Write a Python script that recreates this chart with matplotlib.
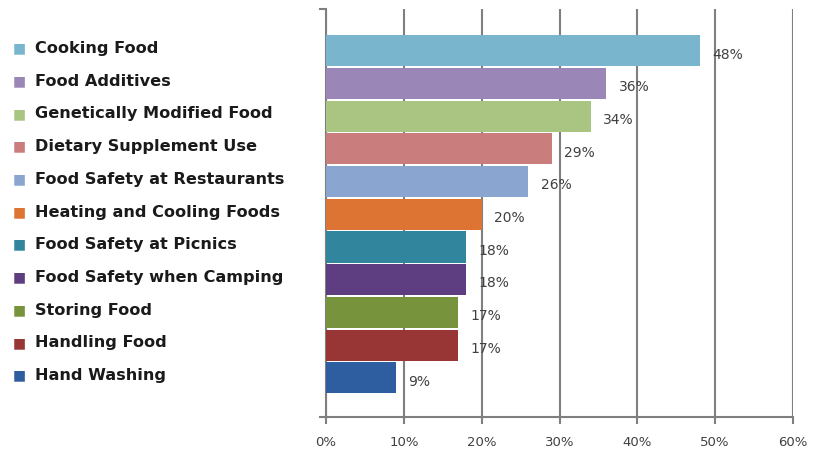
import matplotlib
matplotlib.use('Agg')
import matplotlib.pyplot as plt
import matplotlib.transforms as mtransforms
from matplotlib.ticker import PercentFormatter

topics = ['Cooking Food', 'Food Additives', 'Genetically Modified Food',
          'Dietary Supplement Use', 'Food Safety at Restaurants',
          'Heating and Cooling Foods', 'Food Safety at Picnics',
          'Food Safety when Camping', 'Storing Food', 'Handling Food',
          'Hand Washing']
shares = [48, 36, 34, 29, 26, 20, 18, 18, 17, 17, 9]
colors = ['#79B5CC', '#9A87B7', '#AAC581', '#C97D7C', '#8BA5D1', '#DD7433',
          '#31869E', '#5E3E80', '#77943D', '#973634', '#2F5EA0']
xticks = [0, 10, 20, 30, 40, 50, 60]

fig = plt.figure(figsize=(8.14, 4.56), dpi=100)
ax = fig.add_axes([0.4005, 0.0833, 0.5737, 0.8947])

pos = list(range(len(topics)))
ax.barh(pos, shares, height=0.95, color=colors, zorder=3)

ax.set_xlim(0, 60)
ax.set_ylim(11.2, -1.28)
ax.set_xticks(xticks)
ax.xaxis.set_major_formatter(PercentFormatter(decimals=0))
ax.grid(axis='x', color='#7f7f7f', linewidth=1.5, zorder=0)
ax.set_yticks([11.2, -1.28])
ax.set_yticklabels([])

for s in ['top', 'right']:
    ax.spines[s].set_visible(False)
for s in ['left', 'bottom']:
    ax.spines[s].set_color('#7f7f7f')
    ax.spines[s].set_linewidth(1.5)
ax.tick_params(axis='x', length=5, width=1.5, color='#7f7f7f', pad=8,
               labelsize=9.5, labelcolor='#404040')
ax.tick_params(axis='y', length=5, width=1.5, color='#7f7f7f')

for y, v in zip(pos, shares):
    ax.annotate(f'{v}%', (v, y), xytext=(9, -2), textcoords='offset points',
                va='center', ha='left', fontsize=10, color='#404040', zorder=4)

# legend entries lined up with the bars
trans = mtransforms.blended_transform_factory(fig.transFigure, ax.transData)
for y, name, c in zip(pos, topics, colors):
    ax.text(0.016, y - 0.1, '\u25A0', transform=trans, color=c, fontsize=10,
            va='center', ha='left', clip_on=False)
    ax.text(0.043, y - 0.1, name, transform=trans, color='#1a1a1a',
            fontsize=11.6, fontweight='bold', va='center', ha='left', clip_on=False)

fig.savefig('out.png', dpi=100)
